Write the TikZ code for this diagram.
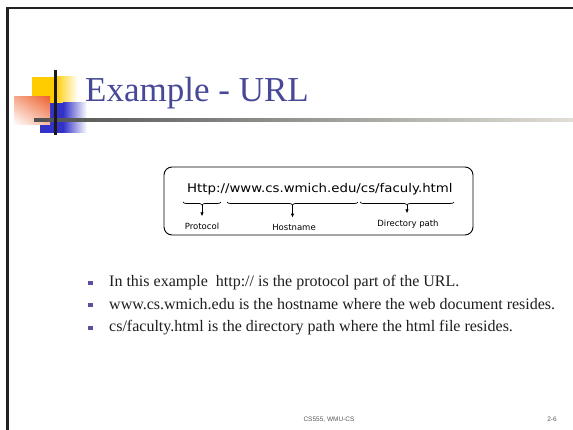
\documentclass[tikz,border=0pt]{standalone}
\usepackage{fontspec}
\setmainfont{Liberation Serif}
\newfontfamily\urlfont{DejaVu Sans}
\newfontfamily\footfont{Liberation Sans}
\usetikzlibrary{decorations.pathreplacing,arrows.meta,shadings}
\definecolor{framegray}{RGB}{34,34,34}
\definecolor{titleblue}{RGB}{72,72,152}
\definecolor{logoyellow}{RGB}{255,204,0}
\definecolor{logoblue}{RGB}{50,50,200}
\definecolor{logoorange}{RGB}{238,100,50}
\definecolor{ruledark}{RGB}{80,80,80}
\definecolor{rulelight}{RGB}{225,222,215}
\definecolor{bulletcol}{RGB}{90,80,160}
\definecolor{textcol}{RGB}{30,30,30}
\tikzset{
  urlbox/.style={draw, line width=0.9pt, rounded corners=8pt, minimum width=309pt, minimum height=68pt, inner sep=0pt},
  urltext/.style={anchor=base west, inner sep=0pt, font=\urlfont\fontsize{12}{12}\selectfont},
  partlabel/.style={anchor=base, inner sep=1pt, font=\urlfont\fontsize{8.5}{8.5}\selectfont},
  partbrace/.style={decorate, decoration={brace, mirror, amplitude=3pt}, line width=0.7pt},
  partarrow/.style={-{Latex[length=4pt,width=3.5pt]}, line width=0.8pt, shorten >=6pt},
  bulletsq/.style={fill=bulletcol, minimum size=4.4pt, inner sep=0pt},
  bullettext/.style={anchor=base west, inner sep=0pt, text=textcol, font=\fontsize{16}{16}\selectfont},
  foottext/.style={anchor=base, inner sep=0pt, text=black!65, font=\footfont\fontsize{6.5}{6.5}\selectfont}
}
\begin{document}
\begin{tikzpicture}[x=1pt,y=-1pt]
\useasboundingbox (0,0) rectangle (573,430);
\fill[white] (0,0) rectangle (573,430);

% slide frame
\draw[line width=2.5pt, framegray] (7.5,430) -- (7.5,8) -- (573,8);

% title ornament
\fill[logoyellow] (32,77) rectangle (55,103);
\shade[left color=logoyellow, right color=white] (55,77) rectangle (78,103);
\fill[logoblue] (40,103) rectangle (63,133);
\shade[left color=logoblue, right color=white] (63,103) rectangle (87,133);
\shade[upper right=logoorange, upper left=logoorange!55, lower right=logoorange!45, lower left=white] (14,97) rectangle (50,125);
\shade[left color=ruledark, right color=rulelight] (34,118.5) rectangle (573,121.5);
\fill[black!90] (54,70) rectangle (56.5,135);

% title
\node[anchor=base west, inner sep=0pt, text=titleblue, font=\fontsize{35}{35}\selectfont] (title) at (85,102) {Example - URL};

% URL diagram
\node[urlbox] (box) at (318.5,201) {};
\node[urltext] (url) at (187,193) {\scalebox{1.11}[1]{Http://www.cs.wmich.edu/cs/faculy.html}};

\coordinate (b1l) at (183,202);
\coordinate (b1r) at (221,202);
\coordinate (b2l) at (227,202);
\coordinate (b2r) at (358,202);
\coordinate (b3l) at (360,202);
\coordinate (b3r) at (454,202);
\draw[partbrace] (b1l) -- (b1r);
\draw[partbrace] (b2l) -- (b2r);
\draw[partbrace] (b3l) -- (b3r);
\coordinate (t1) at (202,205);
\coordinate (t2) at (292.5,205);
\coordinate (t3) at (407,205);

\node[partlabel] (protocol) at (202,230) {Protocol};
\node[partlabel] (hostname) at (294,231) {Hostname};
\node[partlabel] (dirpath) at (408,227) {Directory path};
\draw[partarrow] (t1) -- (t1 |- protocol.north);
\draw[partarrow] (t2) -- (t2 |- hostname.north);
\draw[partarrow] (t3) -- (t3 |- dirpath.north);

% bullet list
\node[bulletsq] (s1) at (90.5,283) {};
\node[bulletsq] (s2) at (90.5,305) {};
\node[bulletsq] (s3) at (90.5,328) {};
\node[bullettext] (l1) at (109,287) {In this example\ \ http:// is the protocol part of the URL.};
\node[bullettext] (l2) at (109,309) {www.cs.wmich.edu is the hostname where the web document resides.};
\node[bullettext] (l3) at (109,331.5) {cs/faculty.html is the directory path where the html file resides.};

% footer
\node[foottext] (foot) at (329,421) {CS555, WMU-CS};
\node[foottext] (page) at (552,421) {2-6};
\end{tikzpicture}
\end{document}
